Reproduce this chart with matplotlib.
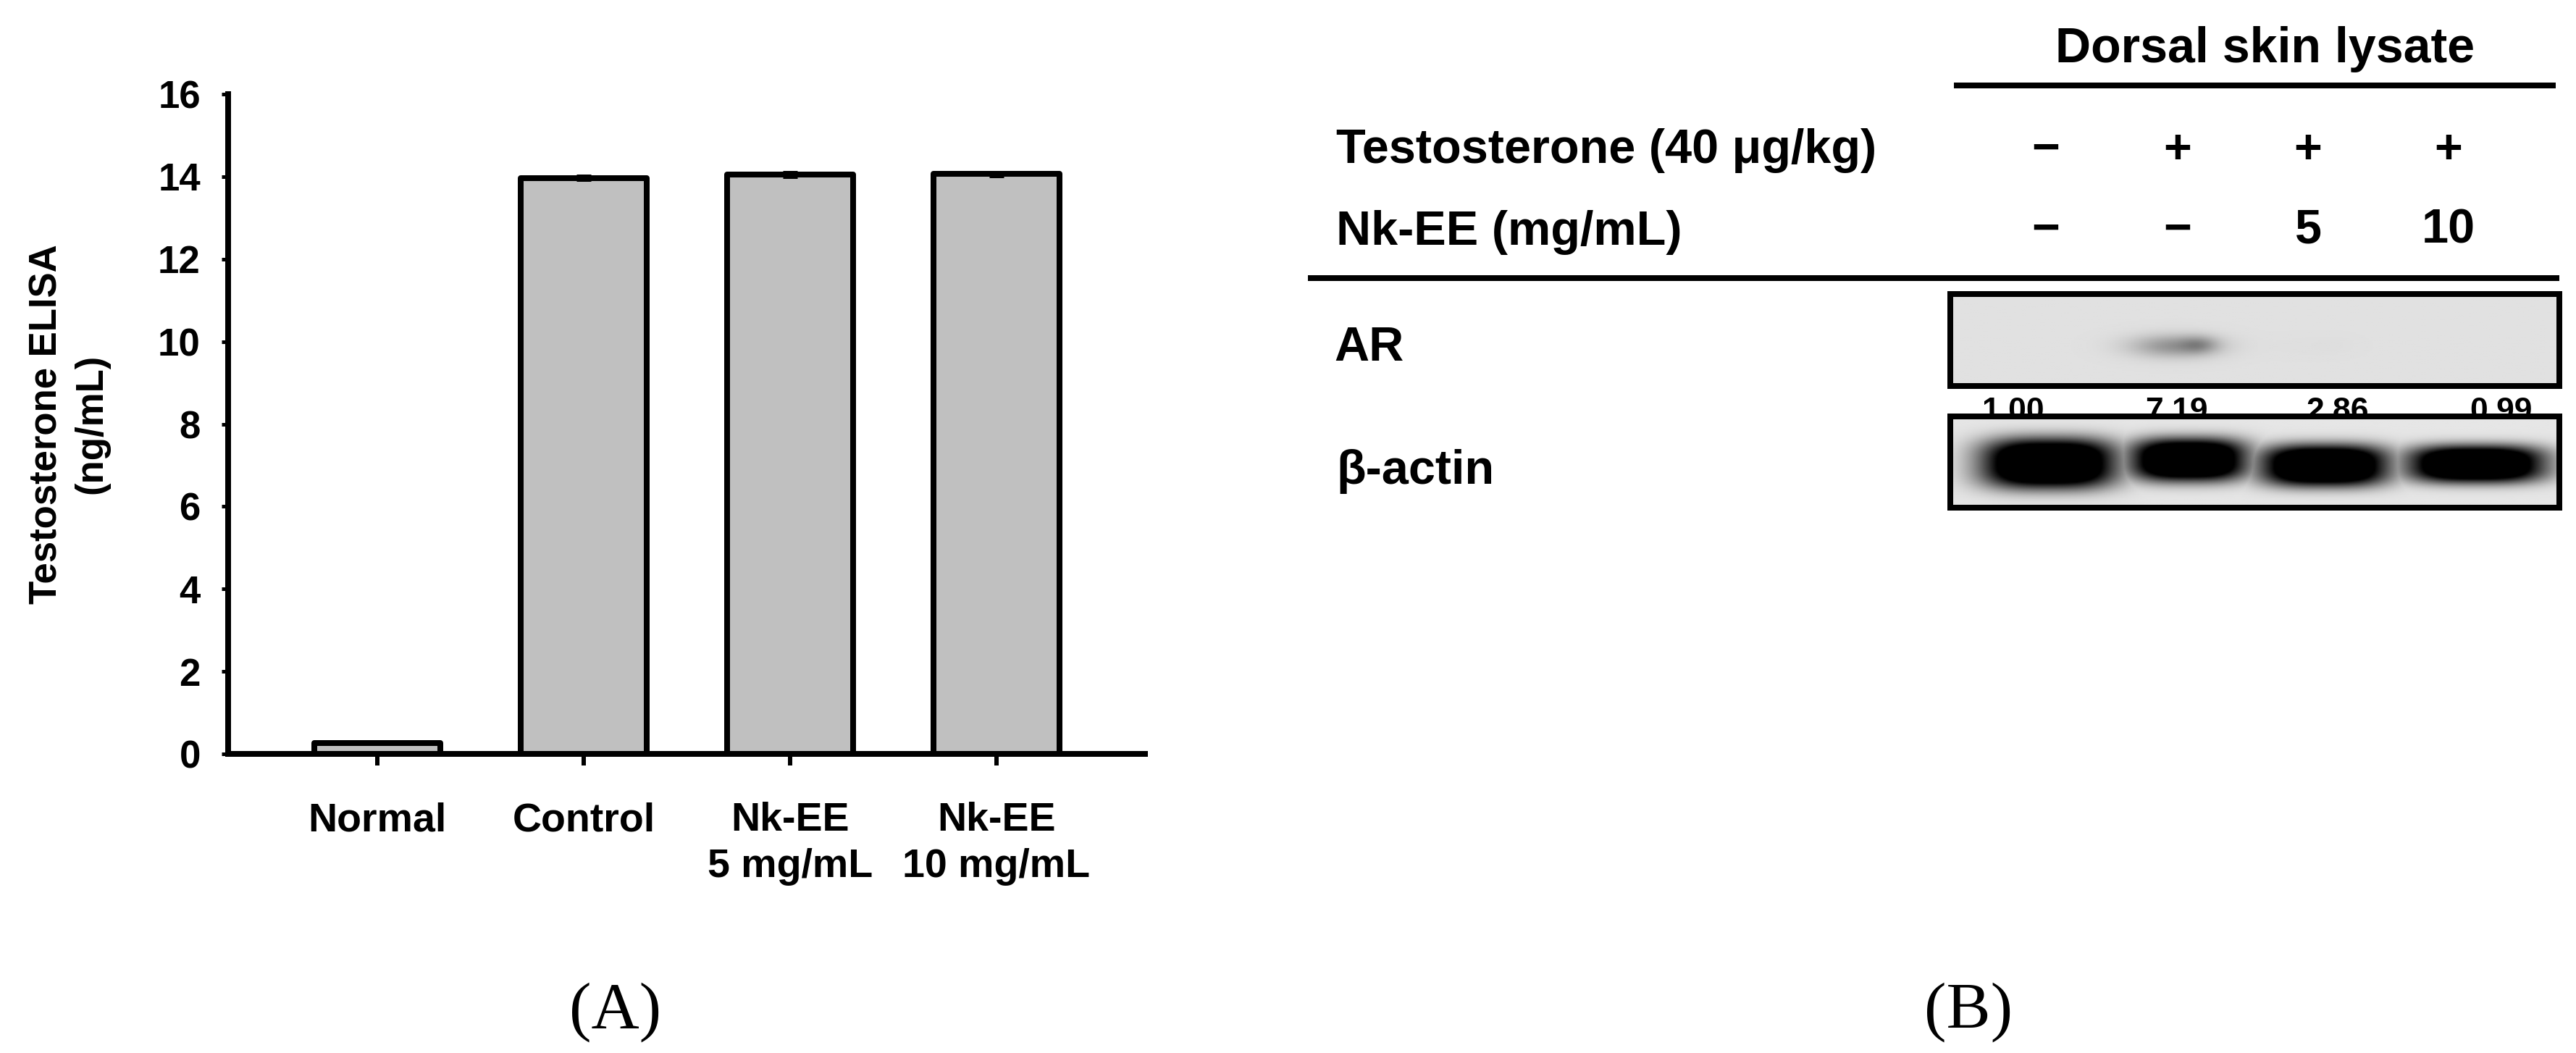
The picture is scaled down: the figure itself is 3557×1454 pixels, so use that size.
import numpy as np
import matplotlib.pyplot as plt
from matplotlib.patches import Rectangle

# ---- panel A: testosterone ELISA ----
groups = ['Normal', 'Control', 'Nk-EE\n5 mg/mL', 'Nk-EE\n10 mg/mL']
elisa = [0.27, 13.97, 14.05, 14.06]
elisa_err = [0.02, 0.04, 0.05, 0.05]
yticks = [0, 2, 4, 6, 8, 10, 12, 14, 16]

# ---- panel B: western blot ----
testo_signs = ['\u2212', '+', '+', '+']
nkee_doses = ['\u2212', '\u2212', '5', '10']
ar_ratio = [1.00, 7.19, 2.86, 0.99]

W, H = 3557, 1454
PX = 72 / 100  # points per pixel at dpi 100

plt.rcParams['font.family'] = ['Liberation Sans', 'DejaVu Sans']
plt.rcParams['font.weight'] = 'bold'
plt.rcParams['axes.labelweight'] = 'bold'

fig = plt.figure(figsize=(W / 100, H / 100), dpi=100)

# canvas in pixel units for panel B and the panel letters
axb = fig.add_axes([0, 0, 1, 1])
axb.set_xlim(0, W)
axb.set_ylim(H, 0)
axb.axis('off')

# ---------- panel A ----------
ax = fig.add_axes([315 / W, 1 - 1041 / H, (1581 - 315) / W, (1041 - 130) / H])
x = np.arange(len(groups))
ax.bar(x, elisa, width=0.61, color='#c0c0c0', edgecolor='black',
       linewidth=8 * PX, joinstyle='round', zorder=2)
ax.errorbar(x, elisa, yerr=elisa_err, fmt='none', ecolor='black',
            elinewidth=4 * PX, capsize=7, capthick=5 * PX, zorder=3)
ax.set_xlim(-0.723, 3.72)
ax.set_ylim(0, 16)
ax.set_yticks(yticks)
ax.set_xticks(x)
ax.set_xticklabels(groups)
for lbl in ax.get_xticklabels():
    lbl.set_linespacing(1.3)
for s in ['top', 'right']:
    ax.spines[s].set_visible(False)
for s in ['left', 'bottom']:
    ax.spines[s].set_linewidth(8 * PX)
ax.tick_params(axis='y', direction='out', length=9 * PX, width=5 * PX,
               pad=21, labelsize=38)
ax.tick_params(axis='x', direction='out', length=16 * PX, width=6 * PX,
               pad=36, labelsize=40)
ax.set_ylabel('Testosterone ELISA\n(ng/mL)', fontsize=38, labelpad=48,
              linespacing=1.3)

# ---------- panel B ----------
lane_x = [2825, 3007, 3187, 3381]        # header columns
band_x = [2829, 3022, 3210, 3420]        # lanes in the blot
num_x = [2780, 3005, 3228, 3453]         # densitometry labels
box_l, box_r = 2693, 3534
ar_top, ar_bot = 406, 533
ac_top, ac_bot = 575, 701
lw = 8 * PX

axb.text(3128, 86, 'Dorsal skin lysate', fontsize=49, ha='center', va='baseline')
axb.plot([2698, 3529], [118, 118], color='black', lw=lw, solid_capstyle='butt')
axb.text(1845, 225, 'Testosterone (40 \u03bcg/kg)', fontsize=48, va='baseline')
axb.text(1845, 338, 'Nk-EE (mg/mL)', fontsize=48, va='baseline')
for xi, s in zip(lane_x, testo_signs):
    axb.text(xi, 225, s, fontsize=48, ha='center', va='baseline')
for xi, s in zip(lane_x, nkee_doses):
    axb.text(xi, 336, s, fontsize=48, ha='center', va='baseline')
axb.plot([1806, 3534], [384, 384], color='black', lw=lw, solid_capstyle='butt')

axb.text(1842, 498, 'AR', fontsize=48, va='baseline')
axb.text(1845, 668, '\u03b2-actin', fontsize=48, va='baseline')

# AR strip: band darkness follows the densitometry ratio
gx = np.linspace(box_l, box_r, 420)
gy = np.linspace(ar_top, ar_bot, 64)
GX, GY = np.meshgrid(gx, gy)
ar_img = np.full(GX.shape, 0.88)
rmax = max(ar_ratio)
for bx, r in zip(band_x, ar_ratio):
    dark = 0.3 * (max(r - 1, 0) / (rmax - 1)) ** 3
    cx = bx - 20
    ar_img -= dark * np.exp(-((GX - cx) / 60) ** 2 - ((GY - 478) / 16) ** 2)
    ar_img -= 0.6 * dark * np.exp(-((GX - cx - 35) / 25) ** 2 - ((GY - 476) / 12) ** 2)
axb.imshow(ar_img, cmap='gray', vmin=0, vmax=1, aspect='auto',
           extent=(box_l, box_r, ar_bot, ar_top), interpolation='bilinear', zorder=2)
axb.add_patch(Rectangle((box_l, ar_top), box_r - box_l, ar_bot - ar_top,
                        fill=False, edgecolor='black', lw=lw, zorder=3))

for xi, r in zip(num_x, ar_ratio):
    axb.text(xi, 580, f'{r:.2f}', fontsize=32, ha='center', va='baseline', zorder=1)

# beta-actin strip: saturated loading-control bands
gy2 = np.linspace(ac_top, ac_bot, 80)
GX2, GY2 = np.meshgrid(gx, gy2)
half_w = [93, 81, 89, 95]
half_h = [35, 30, 29, 26]
band_y = [640, 635, 643, 641]
cover = np.zeros(GX2.shape)
for bx, a, b, by in zip(band_x, half_w, half_h, band_y):
    blob = np.exp(-np.abs((GX2 - bx) / a) ** 3 - np.abs((GY2 - by) / b) ** 3)
    cover = np.maximum(cover, blob)
ac_img = 0.9 * (1 - np.clip(1.6 * cover, 0, 1))
axb.imshow(ac_img, cmap='gray', vmin=0, vmax=1, aspect='auto',
           extent=(box_l, box_r, ac_bot, ac_top), interpolation='bilinear', zorder=2)
axb.add_patch(Rectangle((box_l, ac_top), box_r - box_l, ac_bot - ac_top,
                        fill=False, edgecolor='black', lw=lw, zorder=3))

# panel letters
axb.text(850, 1398, '(A)', fontsize=66, ha='center', va='center',
         family='Liberation Serif', fontweight='normal')
axb.text(2718, 1398, '(B)', fontsize=66, ha='center', va='center',
         family='Liberation Serif', fontweight='normal')

fig.savefig('out.png', dpi=100)
